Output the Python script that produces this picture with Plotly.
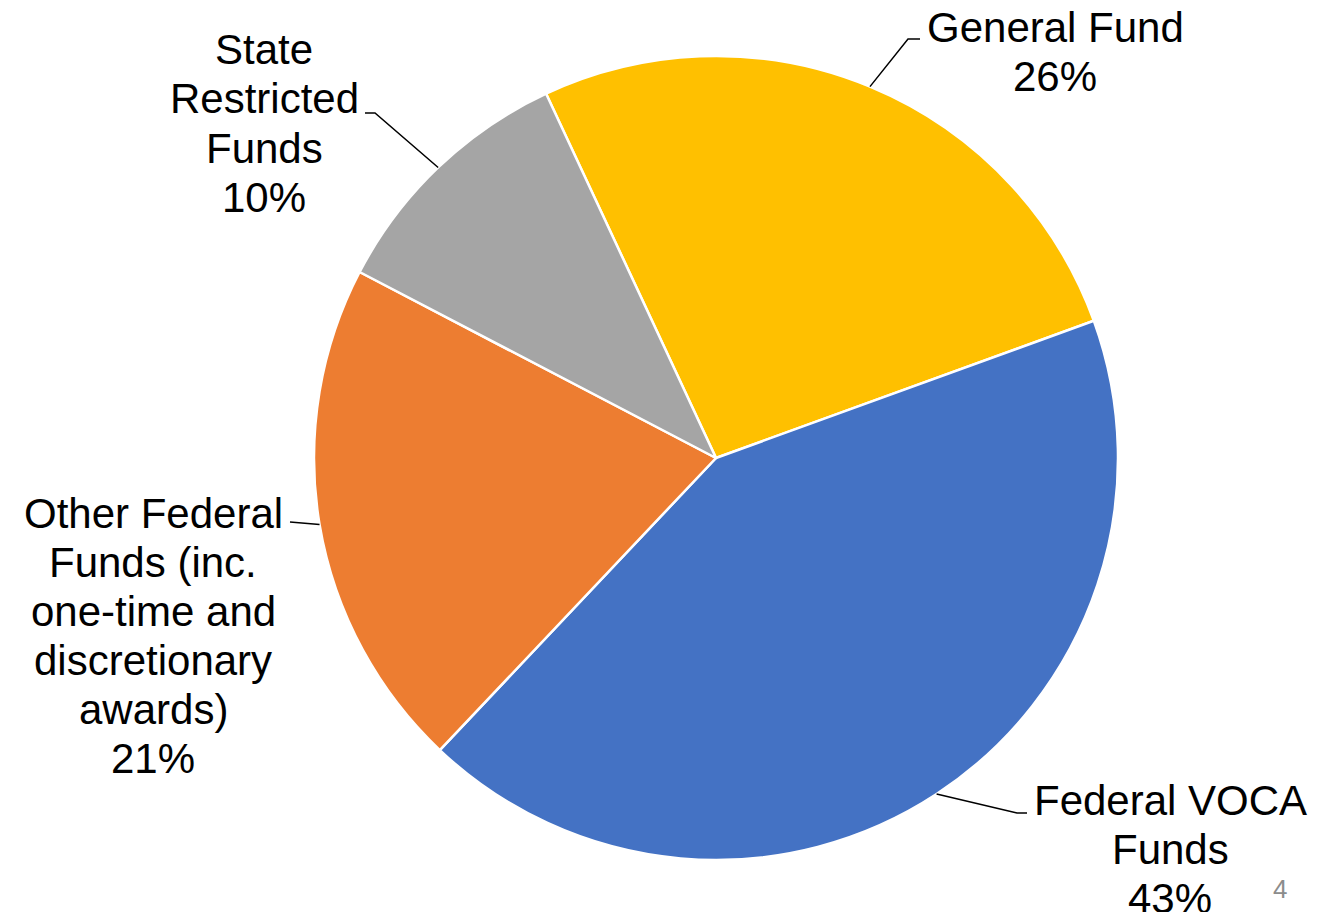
import math
import plotly.graph_objects as go

W, H = 1334, 912

# ---- data ----
categories = ["General Fund", "Federal VOCA Funds",
              "Other Federal Funds (inc. one-time and discretionary awards)",
              "State Restricted Funds"]
values = [26.4, 42.6, 20.6, 10.4]
colors = ["#FFC000", "#4472C4", "#ED7D31", "#A5A5A5"]
label_lines = [
    ["General Fund"],
    ["Federal VOCA", "Funds"],
    ["Other Federal", "Funds (inc.", "one-time and", "discretionary", "awards)"],
    ["State", "Restricted", "Funds"],
]

# ---- layout (pixels, page coordinates) ----
OFF = 8  # default page body margin
CX, CY, R = 716, 458, 402
ROTATION = -25  # degrees clockwise from 12 o'clock where first slice starts
FONT = "Liberation Sans, Arial, sans-serif"
FS = 42
LINE_H = 49
# label block: centre x, first-line y ; leader: elbow point, end point
label_pos = [(1055, 27), (1170, 800), (153, 513), (264, 50)]
leaders = [((908, 39), (920, 39)),
           ((1017, 813), (1027, 813)),
           ((290, 522), (290, 522)),
           ((375, 113), (365, 113))]


def px(x):
    return (x - OFF) / W


def py(y):
    return 1 - (y - OFF) / H


fig = go.Figure(go.Pie(
    labels=categories, values=values, sort=False, direction="clockwise",
    rotation=ROTATION, textinfo="none", hoverinfo="label+percent",
    marker=dict(colors=colors, line=dict(color="white", width=2.5)),
    domain=dict(x=[px(CX - R), px(CX + R)], y=[py(CY + R), py(CY - R)]),
    showlegend=False,
))

annotations = []
shapes = []
total = sum(values)
cum = 0
for i, v in enumerate(values):
    mid = math.radians(ROTATION + 360 * (cum + v / 2) / total)
    cum += v
    ex, ey = CX + R * math.sin(mid), CY - R * math.cos(mid)
    (bx, by), (fx, fy) = leaders[i]
    shapes.append(dict(type="path", xref="paper", yref="paper",
                       path=f"M {px(ex)} {py(ey)} L {px(bx)} {py(by)} L {px(fx)} {py(fy)}",
                       line=dict(color="black", width=1.5)))
    lx, ly = label_pos[i]
    lines = label_lines[i] + [f"{round(100 * v / total)}%"]
    for j, t in enumerate(lines):
        annotations.append(dict(text=t, x=px(lx), y=py(ly + j * LINE_H),
                                xref="paper", yref="paper", showarrow=False,
                                xanchor="center", yanchor="middle",
                                font=dict(family=FONT, size=FS, color="black")))

annotations.append(dict(text="4", x=px(1280), y=py(889), xref="paper", yref="paper",
                        showarrow=False, xanchor="center", yanchor="middle",
                        font=dict(family=FONT, size=26, color="#8C8C8C")))

fig.update_layout(width=W, height=H, margin=dict(l=0, r=0, t=0, b=0),
                  paper_bgcolor="white", plot_bgcolor="white",
                  annotations=annotations, shapes=shapes)

fig.write_html("out.html")
